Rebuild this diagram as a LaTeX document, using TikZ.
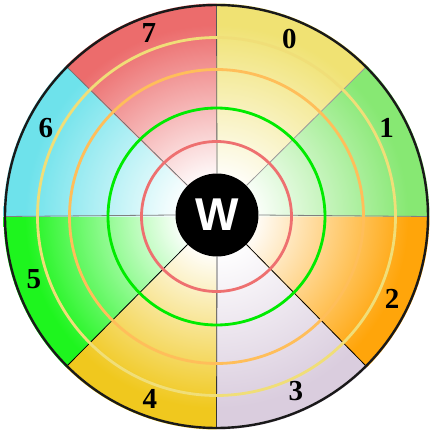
\documentclass[tikz,border=0pt]{standalone}
\usepackage{fontspec}
\setmainfont{Liberation Serif}
\newfontfamily\wfont{Liberation Sans}
\definecolor{c0}{RGB}{240,226,115}
\definecolor{c1}{RGB}{135,232,115}
\definecolor{c2}{RGB}{255,165,10}
\definecolor{c3}{RGB}{218,205,222}
\definecolor{c4}{RGB}{240,200,30}
\definecolor{c5}{RGB}{30,245,30}
\definecolor{c6}{RGB}{110,226,235}
\definecolor{c7}{RGB}{236,108,108}
\definecolor{ringred}{RGB}{238,112,112}
\definecolor{ringgreen}{RGB}{0,235,0}
\definecolor{ringorange}{RGB}{255,190,90}
\definecolor{ringyellow}{RGB}{240,222,120}
\pgfdeclareradialshading{s0}{\pgfpoint{0bp}{0bp}}{color(0bp)=(white); color(4bp)=(white); color(22.5bp)=(c0); color(50bp)=(c0)}
\pgfdeclareradialshading{s1}{\pgfpoint{0bp}{0bp}}{color(0bp)=(white); color(4bp)=(white); color(22.5bp)=(c1); color(50bp)=(c1)}
\pgfdeclareradialshading{s2}{\pgfpoint{0bp}{0bp}}{color(0bp)=(white); color(4bp)=(white); color(22.5bp)=(c2); color(50bp)=(c2)}
\pgfdeclareradialshading{s3}{\pgfpoint{0bp}{0bp}}{color(0bp)=(white); color(4bp)=(white); color(22.5bp)=(c3); color(50bp)=(c3)}
\pgfdeclareradialshading{s4}{\pgfpoint{0bp}{0bp}}{color(0bp)=(white); color(4bp)=(white); color(22.5bp)=(c4); color(50bp)=(c4)}
\pgfdeclareradialshading{s5}{\pgfpoint{0bp}{0bp}}{color(0bp)=(white); color(4bp)=(white); color(22.5bp)=(c5); color(50bp)=(c5)}
\pgfdeclareradialshading{s6}{\pgfpoint{0bp}{0bp}}{color(0bp)=(white); color(4bp)=(white); color(22.5bp)=(c6); color(50bp)=(c6)}
\pgfdeclareradialshading{s7}{\pgfpoint{0bp}{0bp}}{color(0bp)=(white); color(4bp)=(white); color(22.5bp)=(c7); color(50bp)=(c7)}
\tikzset{
  ring/.style={line width=2.8pt},
  divider/.style={line width=0.8pt},
  numlabel/.style={inner sep=0pt, font=\bfseries\fontsize{29}{29}\selectfont},
  hub/.style={circle, fill=black, minimum size=83pt, inner sep=0pt, text=white,
    font=\wfont\bfseries\fontsize{46}{46}\selectfont},
}
\begin{document}
\begin{tikzpicture}[x=1pt,y=1pt]
\useasboundingbox (-216.5,-217.5) rectangle (217.5,216.5);
% sectors
\foreach \i in {0,...,7}{
  \pgfmathsetmacro\a{90-45*\i}
  \pgfmathsetmacro\b{45-45*\i}
  \begin{scope}
    \clip (0,0) -- (\a:213pt) arc[start angle=\a, end angle=\b, radius=213pt] -- cycle;
    \shade[shading=s\i] (0,0) circle (213pt);
  \end{scope}
  \coordinate (r\i) at (\a:211.5pt);
}
% hub
\node[hub] (w) at (0.5,1.5) {\raisebox{-2.5pt}{W}};
% dividers
\draw[divider, black!65] (w.90) -- (r0);
\draw[divider, black!40] (w.45) -- (r1);
\draw[divider, black!50] (w.0) -- (r2);
\draw[divider, black] (w.-45) -- (r3);
\draw[divider, black!80] (w.-90) -- (r4);
\draw[divider, black] (w.-135) -- (r5);
\draw[divider, black!50] (w.180) -- (r6);
\draw[divider, black!55] (w.135) -- (r7);
% rings
\draw[ring, ringred] (0,0) circle (75pt);
\draw[ring, ringgreen] (0,0) circle (108.5pt);
\draw[ring, ringorange] (0,0) circle (147pt);
\draw[ring, ringyellow] (0,0) circle (179pt);
% outer border
\draw[line width=2.4pt, black!90] (0,0) circle (211.5pt);
% labels
\node[numlabel] (l0) at (73,178) {0};
\node[numlabel] (l1) at (170,88.5) {1};
\node[numlabel] (l2) at (175.5,-82) {2};
\node[numlabel] (l3) at (79.5,-175) {3};
\node[numlabel] (l4) at (-66.5,-182.5) {4};
\node[numlabel] (l5) at (-182.5,-62.5) {5};
\node[numlabel] (l6) at (-170.5,88.5) {6};
\node[numlabel] (l7) at (-67.5,183) {7};
\end{tikzpicture}
\end{document}
